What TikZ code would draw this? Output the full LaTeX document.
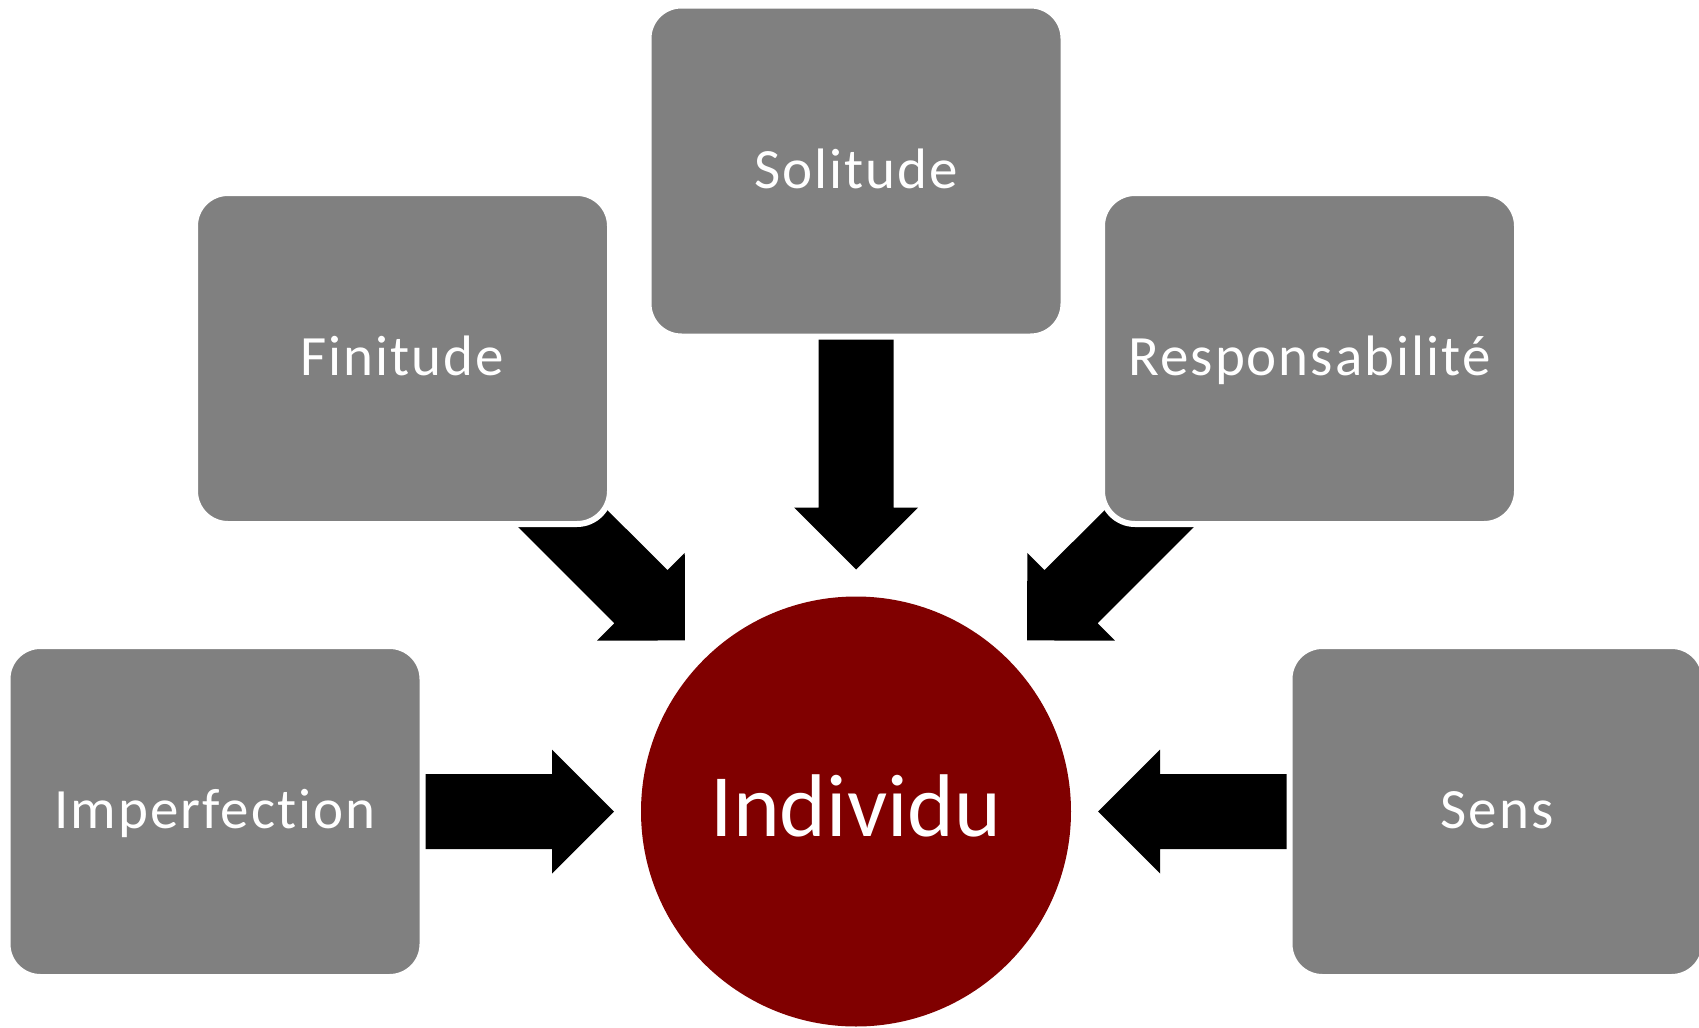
\documentclass[tikz,border=0pt]{standalone}
\usepackage{fontspec}
\setmainfont{Carlito}
\newfontfamily\boxfont[LetterSpace=3.5, Ligatures=CommonOff]{Carlito}
\usetikzlibrary{calc}
\usetikzlibrary{backgrounds}
\definecolor{boxgray}{RGB}{128,128,128}
\definecolor{maroon}{RGB}{128,0,0}
\tikzset{box/.style = {rectangle, rounded corners = 16.5pt, fill = boxgray, draw = white,
                       line width = 3pt, minimum width = 207.5pt, minimum height = 165.5pt,
                       text = white, font = \boxfont\fontsize{28.5}{34}\selectfont,
                       text height = 20pt, text depth = 3pt}}
\tikzset{hub/.style = {circle, fill = maroon, minimum size = 215pt, inner sep = 0,
                       text = white, font = \fontsize{44.5}{53}\selectfont,
                       text height = 29pt, text depth = 4.5pt}}
% block arrow from the centre of a box (#1) to a tip coordinate (#2)
\newcommand{\blockarrow}[2]{%
  \coordinate (#2-base) at ($(#2)!31pt!(#1.center)$);
  \fill [black] ($(#1.center)!18.75pt!90:(#2)$) -- ($(#2-base)!18.75pt!90:(#2)$)
    -- ($(#2-base)!31pt!90:(#2)$) -- (#2) -- ($(#2-base)!31pt!-90:(#2)$)
    -- ($(#2-base)!18.75pt!-90:(#2)$) -- ($(#1.center)!18.75pt!-90:(#2)$) -- cycle;}

\begin{document}
\begin{tikzpicture}[x = 0.5pt, y = -0.5pt]
    \useasboundingbox (0, 0) rectangle (1699, 1028);

    \node [hub] (ind) at (856, 811.5) {Individu};

    \node [box] (sol) at (856, 171) {Solitude};
    \node [box] (fin) at (402.5, 358.5) {Finitude};
    \node [box] (res) at (1309.5, 358.5) {Responsabilité};
    \node [box] (imp) at (215, 811.5) {Imperfection};
    \node [box] (sen) at (1497, 811.5) {Sens};

    \begin{pgfonlayer}{background}
      \foreach \from in {sol, fin, res, imp, sen} {
        \coordinate (\from-tip) at ($(ind.center)!121pt!(\from.center)$);
        \blockarrow{\from}{\from-tip}
      }
    \end{pgfonlayer}
  \end{tikzpicture}
\end{document}
